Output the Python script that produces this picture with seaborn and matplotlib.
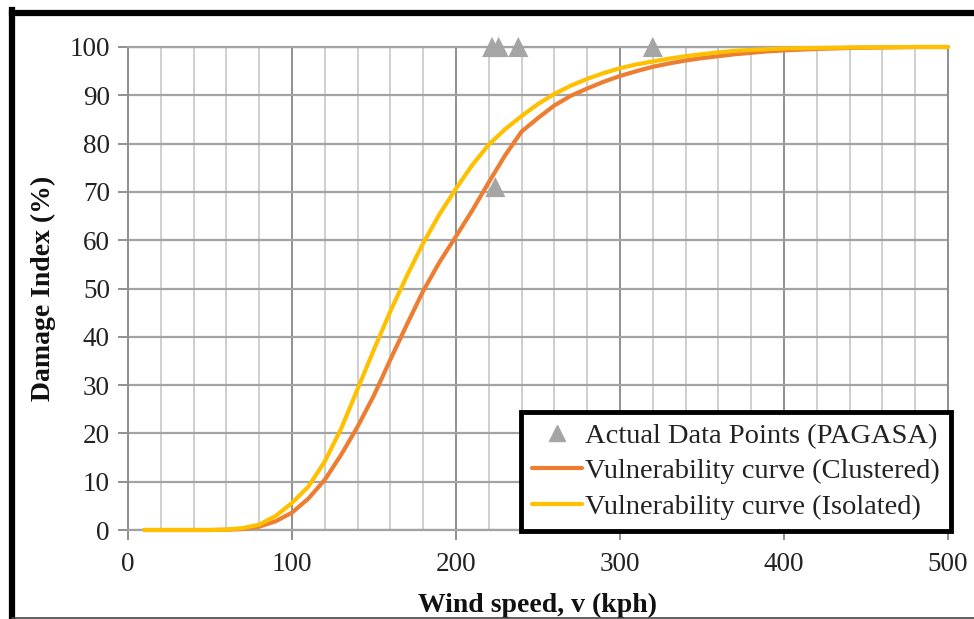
import numpy as np
import pandas as pd
import matplotlib
matplotlib.use("Agg")
import matplotlib.pyplot as plt
import seaborn as sns
from matplotlib.lines import Line2D
from matplotlib.font_manager import FontProperties

# ---- data ----
wind_speed = [10, 20, 30, 40, 50, 60, 70, 80, 90, 100, 110, 120, 130, 140, 150,
              160, 170, 180, 190, 200, 210, 220, 230, 240, 250, 260, 270, 280,
              290, 300, 310, 320, 330, 340, 350, 360, 370, 380, 390, 400, 420,
              440, 460, 480, 500]
clustered = [0, 0, 0, 0, 0, 0.05, 0.2, 0.7, 1.8, 3.6, 6.5, 10.4, 15.6, 21.4, 27.9,
             35.3, 42.5, 49.5, 55.5, 60.8, 66.2, 72.0, 77.6, 82.5, 85.3, 87.9, 89.9,
             91.4, 92.8, 94.0, 95.0, 95.9, 96.6, 97.2, 97.7, 98.1, 98.5, 98.8, 99.1,
             99.3, 99.6, 99.8, 99.9, 100, 100]
isolated = [0, 0, 0, 0, 0, 0.1, 0.4, 1.1, 2.9, 5.6, 9.0, 14.2, 21.0, 29.2, 37.4,
            45.3, 52.6, 59.4, 65.4, 70.7, 75.6, 79.8, 83.0, 85.7, 88.2, 90.3, 92.0,
            93.4, 94.6, 95.6, 96.4, 97.0, 97.6, 98.1, 98.5, 98.9, 99.2, 99.4,
            99.55, 99.7, 99.8, 99.9, 99.95, 100, 100]
actual_v = [222, 226, 238, 320, 224]
actual_di = [100, 100, 100, 100, 71]

labels = ["Actual Data Points (PAGASA)",
          "Vulnerability curve (Clustered)",
          "Vulnerability curve (Isolated)"]
xticks = [0, 100, 200, 300, 400, 500]
yticks = list(range(0, 101, 10))

df_c = pd.DataFrame({"v": wind_speed, "di": clustered})
df_i = pd.DataFrame({"v": wind_speed, "di": isolated})
df_p = pd.DataFrame({"v": actual_v, "di": actual_di})

sns.set_theme(style="white")
FAM = ["Liberation Serif", "DejaVu Serif"]
plt.rcParams['font.family'] = FAM

fig = plt.figure(figsize=(9.74, 6.19), dpi=100)
ax = fig.add_axes([128/974, 1-530/619, (948-128)/974, (530-47)/619])

c_orange = "#ED7D31"
c_yellow = "#FFC000"
c_grey = "#A5A5A5"

# grid
ax.set_xlim(0, 500)
ax.set_ylim(0, 100)
ax.set_xticks(xticks)
ax.set_xticks(np.arange(0, 501, 20), minor=True)
ax.set_yticks(yticks)
ax.grid(which="minor", axis="x", color="#cfcfcf", linewidth=1.4, zorder=0)
ax.grid(which="major", axis="x", color="#8f8f8f", linewidth=1.4, zorder=0)
ax.grid(which="major", axis="y", color="#a3a3a3", linewidth=1.6, zorder=0)
ax.set_axisbelow(True)
for s in ["top", "bottom"]:
    ax.spines[s].set_color("#a3a3a3")
    ax.spines[s].set_linewidth(1.6)
for s in ["left", "right"]:
    ax.spines[s].set_color("#8f8f8f")
    ax.spines[s].set_linewidth(1.4)

sns.lineplot(data=df_c, x="v", y="di", ax=ax, color=c_orange, linewidth=3,
             clip_on=False, zorder=3)
sns.lineplot(data=df_i, x="v", y="di", ax=ax, color=c_yellow, linewidth=3,
             clip_on=False, zorder=4)
sns.scatterplot(data=df_p, x="v", y="di", ax=ax, marker="^", color=c_grey,
                s=210, edgecolor="none", clip_on=False, zorder=2)

ax.tick_params(axis="both", which="major", labelsize=19.5, colors="#8f8f8f",
               labelcolor="#222222", length=7, width=1.4, direction="out",
               bottom=True, left=True)
ax.tick_params(axis="x", which="major", pad=9)
ax.tick_params(axis="y", which="major", pad=6)
ax.tick_params(axis="x", which="minor", length=0)
for lbl in ax.get_xticklabels() + ax.get_yticklabels():
    lbl.set_fontfamily(FAM)

ax.set_xlabel("Wind speed, v (kph)", fontsize=20, fontweight="bold",
              color="#111111", labelpad=11, fontfamily=FAM)
ax.set_ylabel("Damage Index (%)", fontsize=20, fontweight="bold",
              color="#111111", labelpad=10, fontfamily=FAM)

handles = [
    Line2D([], [], marker="^", color=c_grey, linestyle="none", markersize=12),
    Line2D([], [], color=c_orange, linewidth=3),
    Line2D([], [], color=c_yellow, linewidth=3),
]
leg = ax.legend(handles, labels, loc="lower right",
                bbox_to_anchor=(1.004, -0.002), borderaxespad=0,
                prop=FontProperties(family=FAM, size=20.5),
                frameon=True, fancybox=False, framealpha=1,
                edgecolor="black", handlelength=1.75, handletextpad=0.1,
                labelspacing=0.33, borderpad=0.4)
leg.get_frame().set_linewidth(3.5)
for t in leg.get_texts():
    t.set_color("#222222")
leg.set_zorder(10)

# figure border
fig.add_artist(Line2D([11.5/974, 11.5/974], [0, 1-10/619], transform=fig.transFigure,
                      color="black", linewidth=4.5, solid_capstyle="projecting"))
fig.add_artist(Line2D([11.5/974, 1], [1-13/619, 1-13/619], transform=fig.transFigure,
                      color="black", linewidth=4.5, solid_capstyle="projecting"))
fig.add_artist(Line2D([11.5/974, 1], [1.5/619, 1.5/619], transform=fig.transFigure,
                      color="#444444", linewidth=1.2))

fig.savefig("out.png", dpi=100)
